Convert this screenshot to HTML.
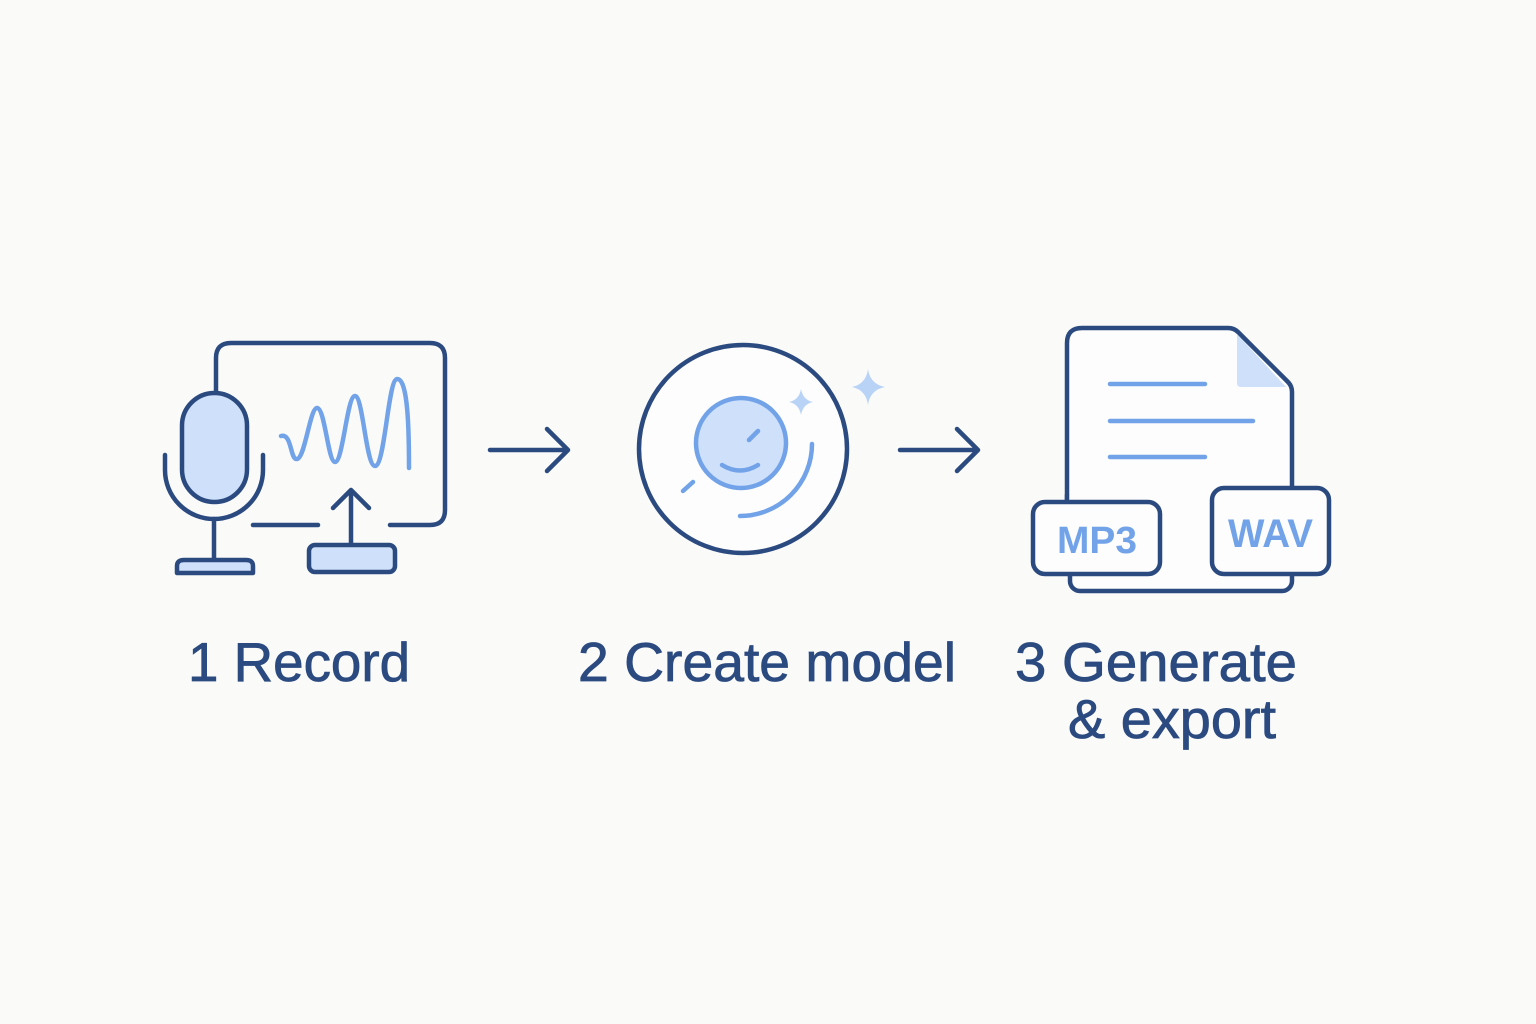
<!DOCTYPE html>
<html><head><meta charset="utf-8"><style>
html,body{margin:0;padding:0;background:#fafbf9;}
svg{display:block;}
text{font-family:"Liberation Sans",sans-serif;fill:#2b4a80;}
.lab{stroke:#2b4a80;stroke-width:0.8;}
</style></head><body>
<svg width="1536" height="1024" viewBox="0 0 1536 1024" xmlns="http://www.w3.org/2000/svg">
<rect width="1536" height="1024" fill="#fafbf9"/>
<g fill="none" stroke-linecap="round" stroke-linejoin="round">
<path d="M216 392 V358 Q216 343 231 343 H430 Q445 343 445 358 V510 Q445 525 430 525 H390" stroke="#2b4a80" stroke-width="4.5"/>
<path d="M253 525 H318" stroke="#2b4a80" stroke-width="4.5"/>
<path d="M281 436 C292 433 290 460 297 459 C305 458 310 408 317 408 C325 408 328 462 335 462 C343 462 347 396 355 396 C363 396 366 466 375 466 C385 466 388 380 397 379 C408 378 409 430 409 468" stroke="#72a3e8" stroke-width="4.5"/>
<rect x="182" y="393" width="65" height="109" rx="32.5" fill="#cfe0fb" stroke="#2b4a80" stroke-width="4.5"/>
<path d="M165 455 V470 A49 49 0 0 0 263 470 V455" stroke="#2b4a80" stroke-width="4.5"/>
<path d="M214 519 V560" stroke="#2b4a80" stroke-width="4.5"/>
<path d="M177 573 V566 Q177 560 184 560 H246 Q253 560 253 566 V573 Z" fill="#cfe0fb" stroke="#2b4a80" stroke-width="4.5"/>
<path d="M351 545 V490 M333 508 L351 490 L369 508" stroke="#2b4a80" stroke-width="4.5"/>
<rect x="309" y="545" width="86" height="27" rx="6" fill="#cfe0fb" stroke="#2b4a80" stroke-width="4.5"/>
<path d="M490 450 H568 M547 429 L568 450 L547 471" stroke="#2b4a80" stroke-width="4.5"/>
<path d="M900 450 H978 M957 429 L978 450 L957 471" stroke="#2b4a80" stroke-width="4.5"/>
<circle cx="743" cy="449" r="104" fill="#fcfdfc" stroke="#2b4a80" stroke-width="4.5"/>
<circle cx="741" cy="443" r="45" fill="#cfe0fb" stroke="#72a3e8" stroke-width="4.5"/>
<path d="M749 440 L758 431" stroke="#72a3e8" stroke-width="4.5"/>
<path d="M722 465 Q740 476 758 465" stroke="#72a3e8" stroke-width="4.5"/>
<path d="M683 491 L693 482" stroke="#72a3e8" stroke-width="4.5"/>
<path d="M812 444 A72 72 0 0 1 740 516" stroke="#72a3e8" stroke-width="4.5"/>
<path d="M801 389 Q803 400 813 402 Q803 404 801 415 Q799 404 789 402 Q799 400 801 389Z" fill="#b9d3f7" stroke="none"/>
<path d="M868 369 Q870 384 885 387 Q870 390 868 405 Q866 390 852 387 Q866 384 868 369Z" fill="#b9d3f7" stroke="none"/>
<path d="M1067 500 V343 Q1067 328 1082 328 H1228 Q1234 328 1238 332 L1288 382 Q1292 386 1292 392 V500" fill="#fcfdfc" stroke="#2b4a80" stroke-width="4.5"/>
<path d="M1237 334 L1286 387 H1241 Q1237 387 1237 383 Z" fill="#cfe0fb" stroke="none"/>
<rect x="1070" y="560" width="222" height="31" rx="10" fill="#fcfdfc" stroke="#2b4a80" stroke-width="4.5"/>
<rect x="1067" y="495" width="225" height="80" fill="#fcfdfc" stroke="none"/>
<path d="M1067 495 V560 M1292 495 V560" stroke="#2b4a80" stroke-width="4.5"/>
<path d="M1110 384 H1205 M1110 421 H1253 M1110 457 H1205" stroke="#72a3e8" stroke-width="4.5"/>
<rect x="1033" y="502" width="127" height="72" rx="12" fill="#fcfdfc" stroke="#2b4a80" stroke-width="4.5"/>
<rect x="1212" y="488" width="117" height="86" rx="12" fill="#fcfdfc" stroke="#2b4a80" stroke-width="4.5"/>
</g>
<text x="1057" y="553" font-size="38" font-weight="bold" style="fill:#72a3e8" textLength="80" lengthAdjust="spacingAndGlyphs">MP3</text>
<text x="1228" y="547" font-size="40" font-weight="bold" style="fill:#72a3e8" textLength="85" lengthAdjust="spacingAndGlyphs">WAV</text>
<text class="lab" x="188" y="681" font-size="55" textLength="222" lengthAdjust="spacingAndGlyphs">1  Record</text>
<text class="lab" x="578" y="681" font-size="55" textLength="378" lengthAdjust="spacingAndGlyphs">2  Create model</text>
<text class="lab" x="1015" y="681" font-size="55" textLength="282" lengthAdjust="spacingAndGlyphs">3  Generate</text>
<text class="lab" x="1068" y="738" font-size="55" textLength="208" lengthAdjust="spacingAndGlyphs">&amp; export</text>
</svg>
</body></html>
